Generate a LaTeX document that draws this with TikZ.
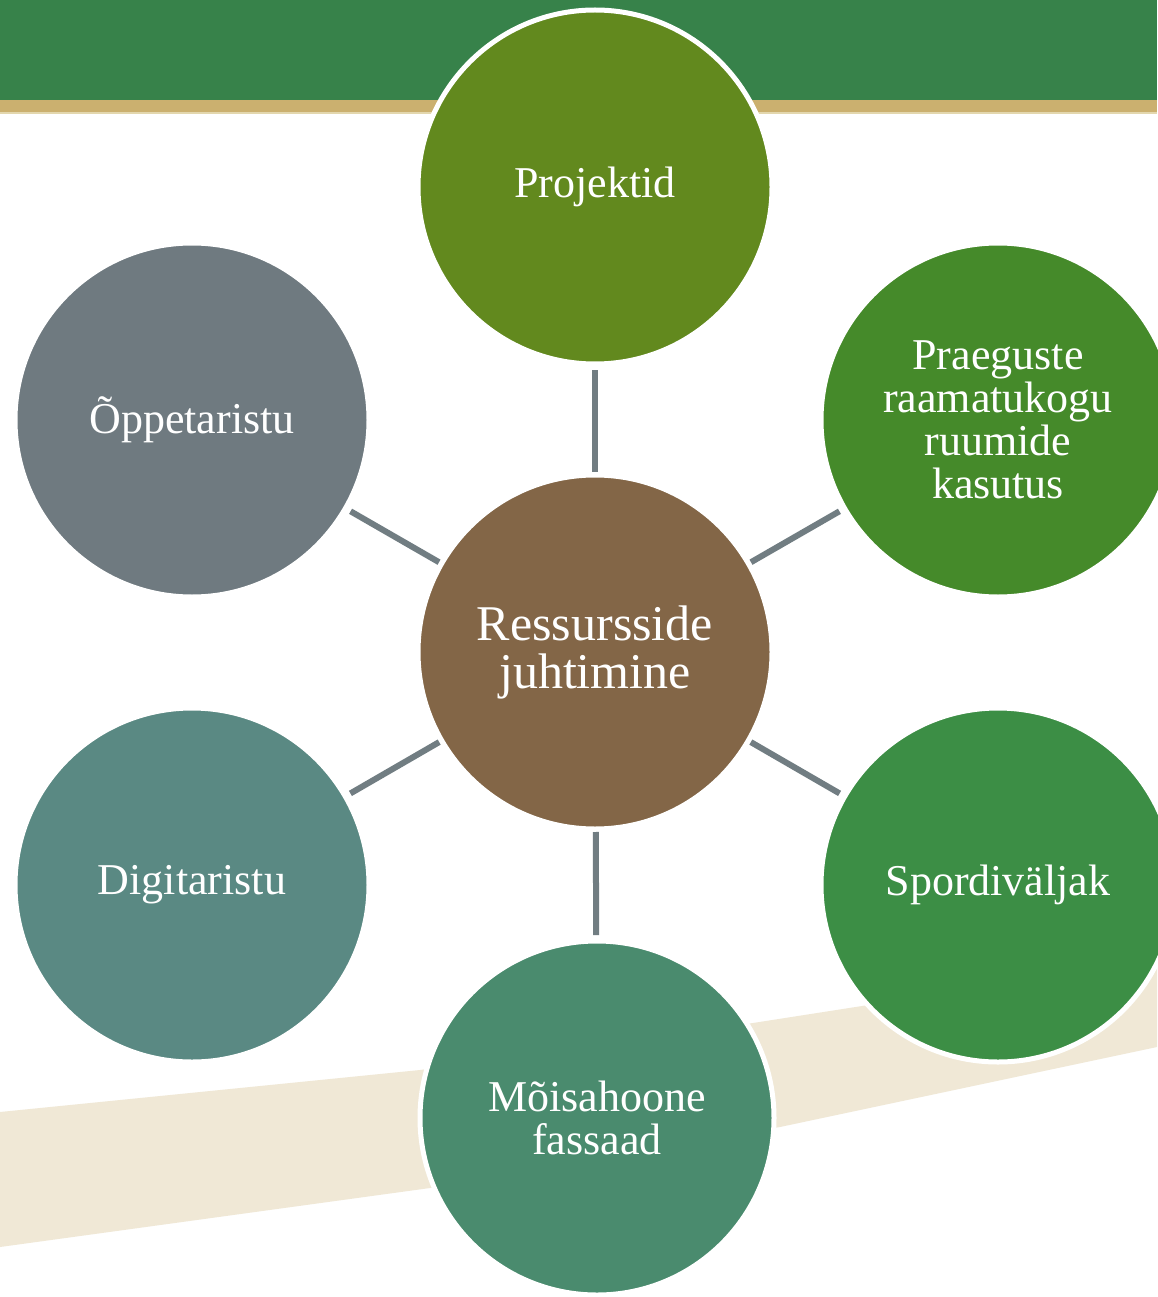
\documentclass[tikz,border=0pt]{standalone}
\usepackage{fontspec}
\setmainfont{Liberation Serif}
\definecolor{barGreen}{HTML}{37824A}
\definecolor{barTan}{HTML}{CBB06F}
\definecolor{barLight}{HTML}{E3D7AE}
\definecolor{bandBeige}{HTML}{F0E8D6}
\definecolor{cProj}{HTML}{62891E}
\definecolor{cPraeg}{HTML}{458A2A}
\definecolor{cSport}{HTML}{3C8E45}
\definecolor{cMois}{HTML}{4A8B6E}
\definecolor{cDigi}{HTML}{5A8983}
\definecolor{cOppe}{HTML}{6F7A80}
\definecolor{cCenter}{HTML}{836647}
\definecolor{linkGray}{HTML}{717D82}
\tikzset{
  bubble/.style={circle, draw=white, line width=5pt, inner sep=0pt, outer sep=0pt,
    minimum size=354pt, text=white, align=center,
    font=\fontsize{44}{43}\selectfont},
  hub/.style={bubble, font=\fontsize{50}{48}\selectfont},
  link/.style={draw=linkGray, line width=6pt, shorten <=6pt, shorten >=3pt}
}
\begin{document}
\begin{tikzpicture}[x=1pt,y=-1pt]
\useasboundingbox (0,0) rectangle (1157,1297);
\fill[white] (0,0) rectangle (1157,1297);
% beige band
\fill[bandBeige] (0,1112) -- (420,1070) -- (753,1023) -- (1157,960) -- (1157,1047) -- (780,1127) -- (430,1188) -- (0,1247) -- cycle;
% top bars
\fill[barGreen] (0,0) rectangle (1157,100);
\fill[barTan] (0,100) rectangle (1157,112.5);
\fill[barLight] (0,112.5) rectangle (1157,114.5);
% nodes
\node[hub, fill=cCenter] (hub) at (595,652) {Ressursside\\juhtimine};
\node[bubble, fill=cProj] (proj) at (595,187) {Projektid};
\node[bubble, fill=cPraeg] (praeg) at (998,420) {Praeguste\\raamatukogu\\ruumide\\kasutus};
\node[bubble, fill=cSport] (sport) at (998,885) {Spordiväljak};
\node[bubble, fill=cMois] (mois) at (597,1118) {Mõisahoone\\fassaad};
\node[bubble, fill=cDigi] (digi) at (192,885) {Digitaristu};
\node[bubble, fill=cOppe] (oppe) at (192,420) {Õppetaristu};
% connectors
\foreach \n in {proj,praeg,sport,mois,digi,oppe}
  \draw[link] (\n) -- (hub);
\end{tikzpicture}
\end{document}
